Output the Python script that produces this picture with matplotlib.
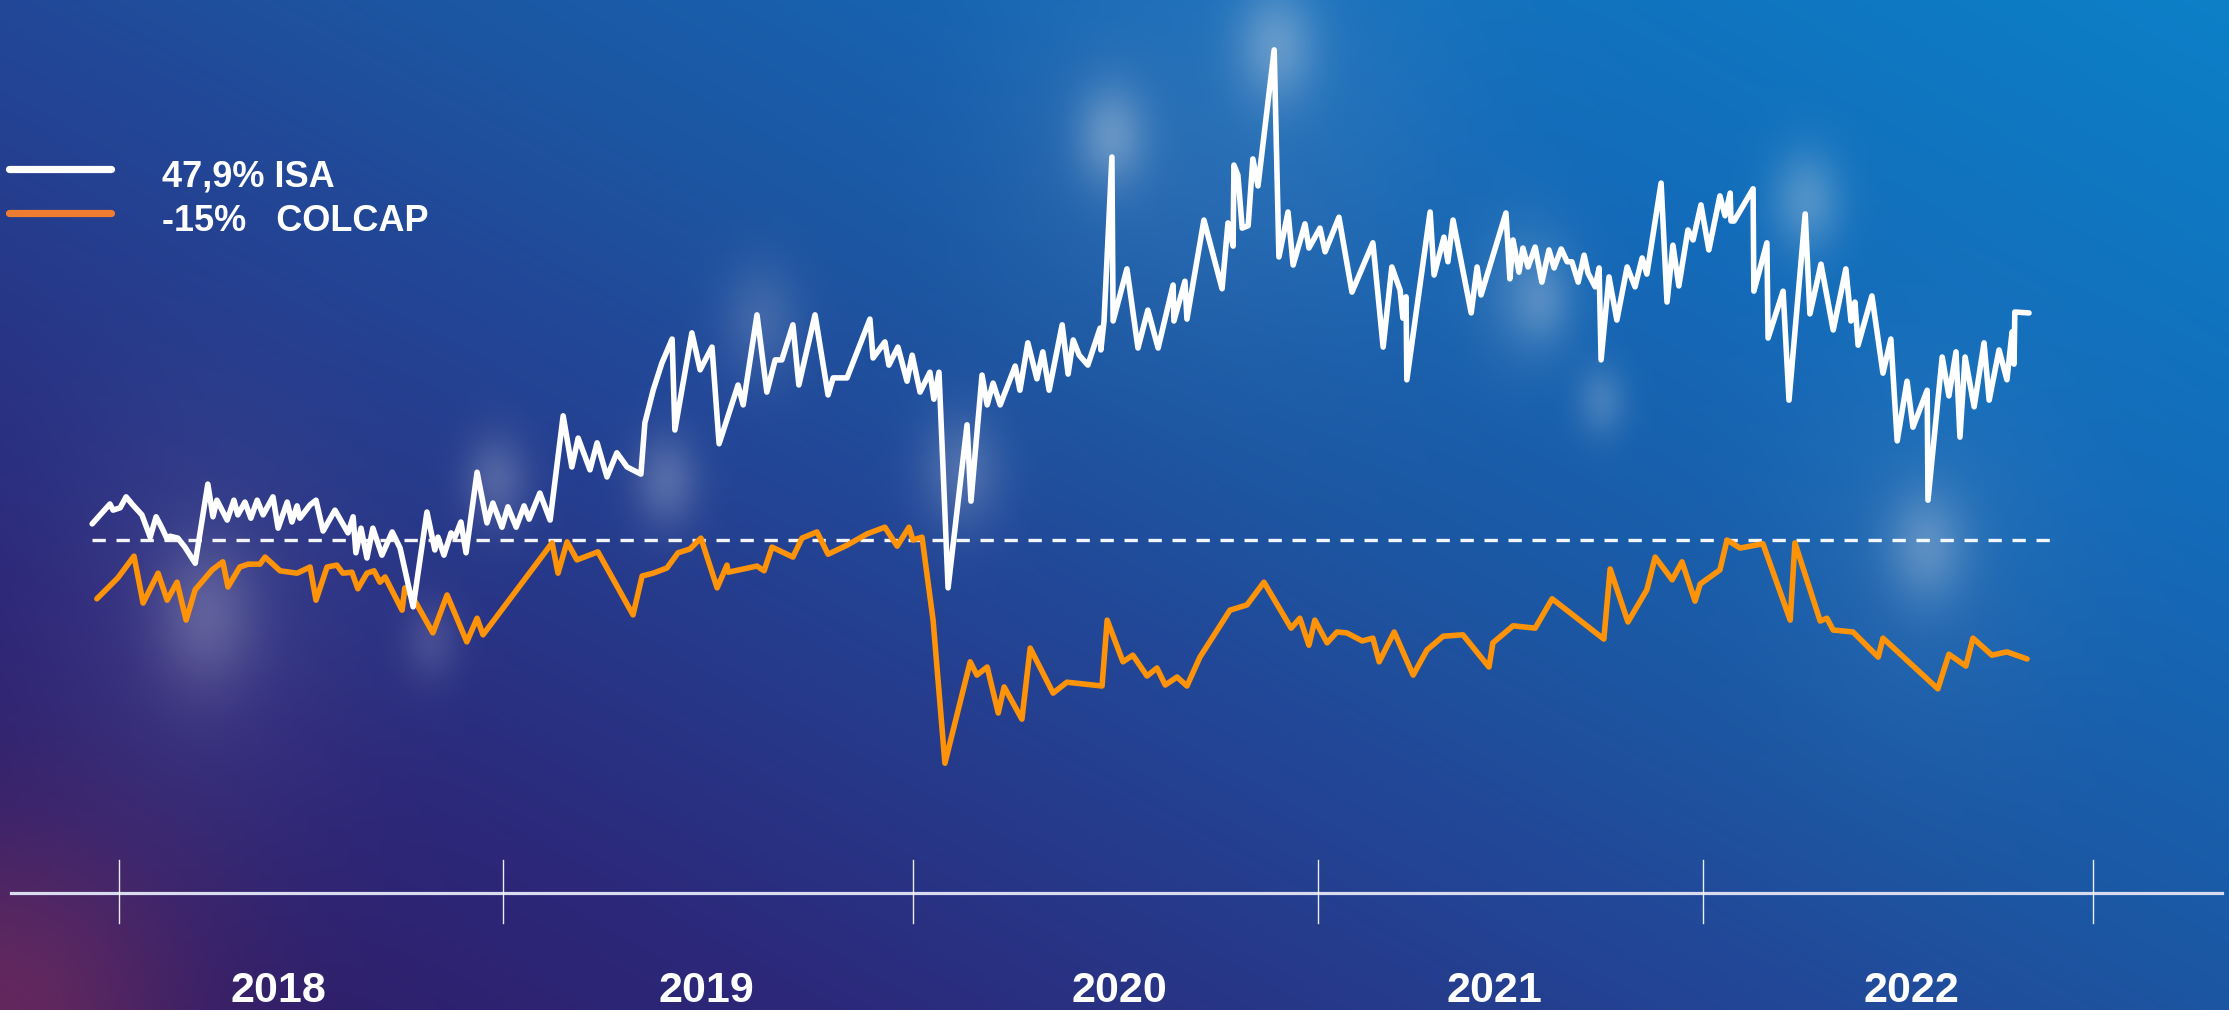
import numpy as np
import matplotlib
matplotlib.use('Agg')
import matplotlib.pyplot as plt

# years after 1 Jan 2018 / change in percent
isa_t = [-0.068, -0.023, -0.015, 0.003, 0.018, 0.035, 0.058, 0.079, 0.094, 0.109,
	0.122, 0.129, 0.149, 0.167, 0.193, 0.225, 0.238, 0.248, 0.274, 0.291,
	0.301, 0.319, 0.334, 0.350, 0.365, 0.390, 0.403, 0.426, 0.438, 0.451,
	0.458, 0.484, 0.499, 0.517, 0.547, 0.580, 0.593, 0.600, 0.613, 0.628,
	0.643, 0.666, 0.692, 0.712, 0.745, 0.780, 0.800, 0.808, 0.823, 0.841,
	0.851, 0.866, 0.879, 0.907, 0.932, 0.947, 0.970, 0.985, 1.006, 1.026,
	1.039, 1.066, 1.092, 1.125, 1.147, 1.163, 1.193, 1.211, 1.236, 1.261,
	1.287, 1.322, 1.332, 1.353, 1.375, 1.401, 1.408, 1.451, 1.472, 1.502,
	1.520, 1.568, 1.581, 1.616, 1.641, 1.662, 1.679, 1.707, 1.722, 1.763,
	1.796, 1.809, 1.844, 1.902, 1.910, 1.940, 1.950, 1.973, 1.996, 2.009,
	2.029, 2.054, 2.064, 2.077, 2.100, 2.148, 2.158, 2.186, 2.199, 2.214,
	2.232, 2.270, 2.282, 2.302, 2.325, 2.340, 2.356, 2.389, 2.404, 2.417,
	2.432, 2.454, 2.485, 2.487, 2.495, 2.515, 2.518, 2.553, 2.581, 2.606,
	2.632, 2.670, 2.672, 2.700, 2.705, 2.748, 2.794, 2.809, 2.822, 2.824,
	2.834, 2.845, 2.860, 2.872, 2.885, 2.926, 2.938, 2.961, 2.974, 3.004,
	3.014, 3.042, 3.055, 3.090, 3.123, 3.176, 3.202, 3.224, 3.245, 3.252,
	3.260, 3.262, 3.321, 3.331, 3.356, 3.366, 3.379, 3.425, 3.440, 3.450,
	3.513, 3.523, 3.531, 3.546, 3.556, 3.569, 3.587, 3.604, 3.622, 3.635,
	3.653, 3.668, 3.680, 3.696, 3.711, 3.721, 3.739, 3.749, 3.754, 3.774,
	3.794, 3.820, 3.840, 3.858, 3.870, 3.906, 3.921, 3.936, 3.951, 3.974,
	3.987, 4.007, 4.027, 4.055, 4.068, 4.081, 4.083, 4.091, 4.139, 4.141,
	4.157, 4.174, 4.177, 4.215, 4.230, 4.271, 4.283, 4.311, 4.342, 4.374,
	4.387, 4.397, 4.405, 4.440, 4.468, 4.488, 4.504, 4.529, 4.544, 4.580,
	4.582, 4.618, 4.635, 4.653, 4.663, 4.676, 4.699, 4.724, 4.737, 4.762,
	4.782, 4.795, 4.800, 4.802, 4.838]
isa_pct = [3.4, 7.6, 6.3, 6.8, 9.1, 7.4, 5.3, 0.6, 4.9, 2.5,
	0.2, 0.8, 0.4, -1.5, -4.9, 11.8, 4.9, 8.4, 4.2, 8.4,
	5.3, 8.0, 4.6, 8.4, 5.3, 9.1, 2.5, 8.0, 3.8, 7.2,
	4.6, 7.4, 8.4, 1.9, 6.3, 1.5, 4.9, -2.7, 2.5, -3.8,
	2.5, -3.2, 1.7, -1.7, -14.1, 5.9, -2.1, 0.6, -3.2, 1.5,
	0.6, 3.8, -2.7, 14.3, 3.6, 7.8, 2.7, 7.0, 2.7, 7.2,
	4.4, 9.9, 4.2, 26.2, 15.4, 21.5, 14.8, 20.5, 13.3, 18.4,
	15.4, 13.9, 24.7, 31.6, 37.3, 42.4, 23.2, 43.7, 35.9, 40.7,
	20.3, 32.7, 28.5, 47.5, 31.2, 38.0, 38.0, 45.4, 32.7, 47.5,
	30.6, 34.2, 34.2, 46.6, 38.4, 41.8, 36.9, 40.7, 33.5, 39.0,
	31.2, 35.4, 29.7, 35.4, -10.1, 24.3, 8.2, 34.8, 28.5, 33.1,
	28.5, 36.7, 31.6, 41.6, 34.0, 39.7, 31.6, 45.4, 35.0, 42.2,
	39.0, 36.9, 44.7, 40.1, 46.2, 80.8, 46.2, 57.2, 40.5, 48.5,
	40.5, 53.8, 46.2, 54.6, 46.6, 67.5, 53.0, 66.9, 62.0, 79.1,
	77.0, 65.8, 66.3, 80.4, 74.7, 103.4, 59.7, 69.2, 58.0, 66.7,
	61.6, 65.8, 60.8, 68.1, 52.3, 62.7, 40.7, 57.6, 52.7, 46.8,
	51.3, 33.8, 69.2, 55.9, 63.9, 58.7, 67.5, 47.9, 57.6, 51.7,
	69.0, 55.1, 63.3, 56.5, 61.6, 57.6, 61.8, 54.4, 61.2, 57.4,
	61.4, 58.7, 58.7, 54.4, 60.1, 56.3, 53.4, 57.4, 38.0, 55.5,
	46.4, 57.6, 53.4, 59.5, 56.1, 75.3, 50.2, 62.2, 53.6, 65.4,
	63.3, 70.7, 61.2, 72.6, 68.4, 73.2, 67.3, 67.3, 74.1, 52.5,
	57.4, 62.7, 42.6, 52.5, 29.5, 68.8, 47.7, 58.2, 44.3, 57.2,
	46.2, 50.2, 41.1, 51.5, 35.2, 42.4, 20.9, 33.5, 23.8, 31.6,
	8.4, 38.6, 30.4, 39.7, 21.7, 38.6, 28.1, 41.6, 29.5, 40.1,
	33.8, 43.9, 37.1, 48.1, 47.9]

colcap_t = [-0.056, -0.003, 0.038, 0.061, 0.099, 0.122, 0.147, 0.170, 0.193, 0.236,
	0.263, 0.276, 0.306, 0.327, 0.357, 0.370, 0.408, 0.451, 0.484, 0.499,
	0.527, 0.552, 0.567, 0.590, 0.605, 0.628, 0.646, 0.661, 0.674, 0.717,
	0.724, 0.745, 0.795, 0.831, 0.881, 0.907, 0.922, 1.097, 1.112, 1.135,
	1.160, 1.213, 1.302, 1.325, 1.353, 1.388, 1.416, 1.446, 1.474, 1.515,
	1.540, 1.543, 1.616, 1.634, 1.654, 1.707, 1.730, 1.768, 1.796, 1.844,
	1.895, 1.940, 1.971, 2.001, 2.011, 2.034, 2.062, 2.092, 2.156, 2.173,
	2.199, 2.227, 2.242, 2.287, 2.308, 2.366, 2.401, 2.490, 2.503, 2.543,
	2.568, 2.604, 2.629, 2.650, 2.680, 2.705, 2.738, 2.814, 2.857, 2.900,
	2.969, 2.991, 3.014, 3.029, 3.060, 3.085, 3.110, 3.149, 3.176, 3.192,
	3.230, 3.278, 3.313, 3.354, 3.404, 3.470, 3.480, 3.531, 3.587, 3.630,
	3.761, 3.777, 3.822, 3.870, 3.891, 3.934, 3.959, 3.992, 4.005, 4.055,
	4.073, 4.106, 4.164, 4.233, 4.245, 4.309, 4.326, 4.342, 4.392, 4.456,
	4.468, 4.607, 4.635, 4.678, 4.696, 4.744, 4.782, 4.833]
colcap_pct = [-12.4, -8.0, -3.4, -13.3, -7.0, -12.7, -8.9, -16.9, -10.5, -6.3,
	-4.6, -9.9, -5.7, -5.1, -5.1, -3.6, -6.5, -7.0, -5.7, -12.7,
	-5.7, -5.3, -7.0, -6.8, -10.3, -7.0, -6.5, -8.9, -7.8, -14.8,
	-10.1, -12.2, -19.6, -11.6, -21.5, -16.5, -20.0, -0.6, -7.0, -0.4,
	-4.2, -2.5, -15.8, -7.6, -7.0, -5.9, -2.7, -1.9, 0.4, -10.1,
	-5.3, -6.8, -5.5, -6.5, -1.5, -3.6, 0.4, 1.7, -3.0, -1.1,
	1.3, 2.7, -1.3, 2.7, 0.0, 0.6, -16.9, -47.1, -25.7, -28.5,
	-26.8, -36.5, -31.0, -37.8, -22.8, -32.3, -30.0, -30.8, -16.9, -25.7,
	-24.3, -28.7, -27.0, -30.6, -28.9, -30.8, -24.7, -14.8, -13.7, -8.9,
	-18.6, -16.5, -22.2, -16.9, -21.7, -19.4, -19.6, -21.3, -20.7, -25.7,
	-19.4, -28.5, -23.2, -20.3, -20.0, -26.8, -21.7, -18.1, -18.6, -12.4,
	-20.9, -6.1, -17.3, -10.5, -3.6, -8.4, -4.6, -12.9, -9.3, -6.3,
	0.0, -1.7, -0.8, -16.9, -0.6, -17.1, -16.5, -19.0, -19.4, -24.7,
	-20.7, -31.4, -24.1, -26.6, -20.7, -24.3, -23.6, -25.1]

# year separators and where each year name sits (years after 1 Jan 2018)
year_edges = [0.0, 0.973, 2.011, 3.037, 4.012, 5.0]
year_names = ['2018', '2019', '2020', '2021', '2022']
year_mid = [0.405, 1.489, 2.533, 3.483, 4.539]

legend_texts = ['47,9% ISA', '-15%   COLCAP']

W, H = 2229, 1010
PX_YEAR = 394.8		# pixels for one year
PX_PCT = 4.74		# pixels for one percent
X0, Y0 = 119, 540	# pixel of (2018, 0%)

def to_x(px):
	return 2018 + (px - X0) / PX_YEAR

def to_y(py):
	return (Y0 - py) / PX_PCT

def background():
	# diagonal blue/purple wash with some soft light spots
	h, w = H // 2, W // 2
	yy, xx = np.mgrid[0:h, 0:w]
	u = xx / (w - 1)
	v = yy / (h - 1)
	t = np.clip(0.55 * u + 0.45 * (1 - v), 0, 1)
	stops = [0.0, 0.2, 0.45, 0.55, 0.75, 1.0]
	cols = np.array([(48, 26, 98), (44, 40, 122), (34, 72, 152),
		(28, 86, 162), (20, 106, 184), (12, 128, 200)]) / 255.0
	img = np.zeros((h, w, 3))
	for c in range(3):
		img[..., c] = np.interp(t, stops, cols[:, c])
	# reddish corner bottom left
	d = np.hypot(xx * 2, (h - yy) * 2)
	a = np.exp(-(d / 180.0) ** 2) * 0.55
	for c, val in enumerate((0.55, 0.2, 0.35)):
		img[..., c] = img[..., c] * (1 - a) + val * a
	spots = [(1110, 135, 35, 0.32), (1275, 45, 40, 0.32), (1805, 200, 35, 0.28),
		(1925, 545, 40, 0.28), (1600, 400, 25, 0.20), (1525, 290, 50, 0.15),
		(760, 320, 40, 0.16), (665, 480, 32, 0.24), (495, 480, 32, 0.22),
		(205, 615, 50, 0.22), (430, 640, 28, 0.14), (960, 470, 40, 0.22),
		(1540, 300, 28, 0.18), (1300, 120, 160, 0.07), (1110, 140, 130, 0.06),
		(1930, 540, 140, 0.06), (200, 620, 150, 0.07)]
	for sx, sy, r, s in spots:
		d = np.hypot(xx * 2 - sx, (yy * 2 - sy) * 0.7)
		a = np.exp(-(d / r) ** 2) * s
		for c in range(3):
			img[..., c] = img[..., c] * (1 - a) + 0.92 * a
	return np.clip(img, 0, 1)

fig = plt.figure(figsize=(W / 100, H / 100), dpi=100)
ax = fig.add_axes([0, 0, 1, 1])
xlim = (to_x(0), to_x(W))
ylim = (to_y(H), to_y(0))
ax.imshow(background(), extent=(xlim[0], xlim[1], ylim[0], ylim[1]),
	aspect='auto', origin='upper', interpolation='bilinear', zorder=0)

# zero line
ax.plot([to_x(92), to_x(2050)], [0, 0], color='white', lw=2.4,
	dashes=(4.0, 3.2), alpha=0.95, zorder=2)

ax.plot([2018 + t for t in colcap_t], colcap_pct, color='#FF9308', lw=4.0,
	solid_joinstyle='round', solid_capstyle='round', zorder=3)
ax.plot([2018 + t for t in isa_t], isa_pct, color='white', lw=4.0,
	solid_joinstyle='round', solid_capstyle='round', zorder=4)

# time axis at the bottom
ax.plot([to_x(11), to_x(2222)], [to_y(893), to_y(893)], color='#D8DCEE', lw=2.3, zorder=2)
for e in year_edges:
	ax.plot([2018 + e, 2018 + e], [to_y(860), to_y(923)], color='white', lw=1.0, alpha=0.9, zorder=2)
for name, m in zip(year_names, year_mid):
	ax.text(2018 + m, to_y(1002), name, color='white', fontsize=31, fontweight='bold',
		family='Liberation Sans', ha='center', va='baseline', zorder=5)

# legend
for col, ly, txt, ty in zip(['white', '#EE7D31'], [169, 213], legend_texts, [187, 231]):
	ax.plot([9 / W, 111 / W], [1 - ly / H, 1 - ly / H], color=col, lw=5.2,
		solid_capstyle='round', transform=ax.transAxes, zorder=5)
	ax.text(162 / W, 1 - ty / H, txt, color='white', fontsize=26, fontweight='bold',
		family='Liberation Sans', ha='left', va='baseline', transform=ax.transAxes, zorder=5)

ax.set_xlim(xlim)
ax.set_ylim(ylim)
ax.axis('off')
fig.savefig('out.png', dpi=100)
